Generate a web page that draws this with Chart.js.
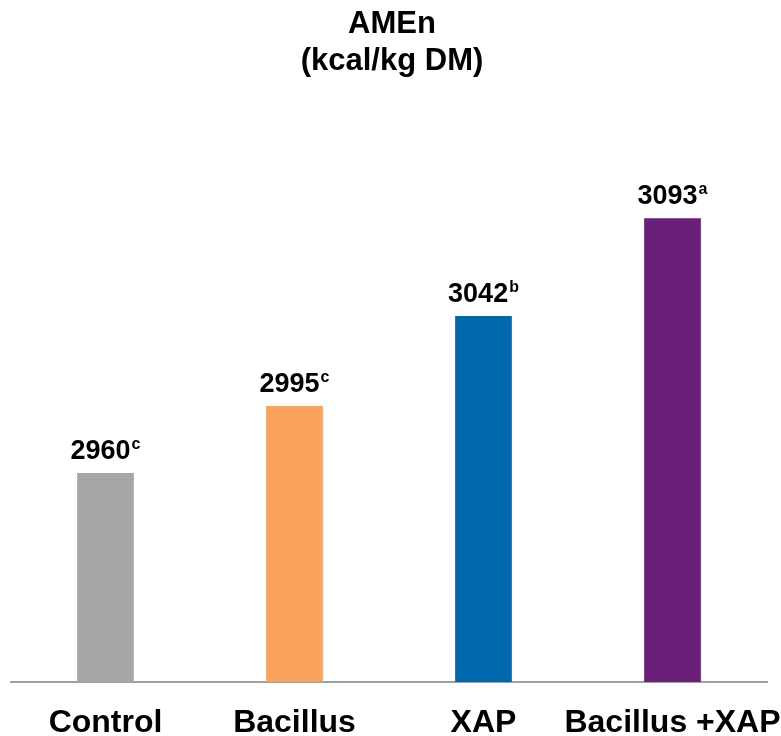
<!DOCTYPE html>
<html>
<head>
<meta charset="utf-8">
<script src="https://cdn.jsdelivr.net/npm/chart.js@4/dist/chart.umd.min.js"></script>
<style>
  html, body { margin: 0; padding: 0; background: #ffffff; }
  #wrap { width: 781px; height: 736px; }
</style>
</head>
<body>
<div id="wrap"><canvas id="c" width="781" height="736"></canvas></div>
<script>
const categories = ['Control', 'Bacillus', 'XAP', 'Bacillus +XAP'];
const amenValues = [2960, 2995, 3042, 3093];
const significance = ['c', 'c', 'b', 'a'];
const barColors = ['#a6a6a6', '#f8a25e', '#0068ac', '#6a1f7a'];
const titleLines = ['AMEn', '(kcal/kg DM)'];

const FONT = '"Liberation Sans", Arial, sans-serif';

// Two-line bold heading centred over the plot
const heading = {
  id: 'heading',
  afterDraw(chart) {
    const ctx = chart.ctx;
    ctx.save();
    ctx.fillStyle = '#000';
    ctx.font = 'bold 31px ' + FONT;
    ctx.textAlign = 'center';
    ctx.textBaseline = 'alphabetic';
    ctx.fillText(titleLines[0], 392, 33);
    ctx.fillText(titleLines[1], 392, 70);
    ctx.restore();
  }
};

// Category names under the axis line
const categoryLabels = {
  id: 'categoryLabels',
  afterDraw(chart) {
    const ctx = chart.ctx;
    const xs = chart.scales.x;
    ctx.save();
    ctx.fillStyle = '#000';
    ctx.font = 'bold 32px ' + FONT;
    ctx.textAlign = 'center';
    ctx.textBaseline = 'alphabetic';
    categories.forEach((c, i) => {
      ctx.fillText(c, xs.getPixelForValue(i), 732);
    });
    ctx.restore();
  }
};

// Value label with a superscript significance letter above each bar
const valueLabels = {
  id: 'valueLabels',
  afterDatasetsDraw(chart) {
    const ctx = chart.ctx;
    const meta = chart.getDatasetMeta(0);
    ctx.save();
    ctx.fillStyle = '#000';
    ctx.textBaseline = 'alphabetic';
    ctx.textAlign = 'left';
    meta.data.forEach((bar, i) => {
      const num = String(amenValues[i]);
      const sup = significance[i];
      ctx.font = 'bold 27px ' + FONT;
      const wNum = ctx.measureText(num).width;
      ctx.font = 'bold 16px ' + FONT;
      const wSup = ctx.measureText(sup).width;
      const total = wNum + 1 + wSup;
      const x0 = bar.x - total / 2;
      const base = bar.y - 14;
      ctx.font = 'bold 27px ' + FONT;
      ctx.fillText(num, x0, base);
      ctx.font = 'bold 16px ' + FONT;
      ctx.fillText(sup, x0 + wNum + 1, base - 10);
    });
    ctx.restore();
  }
};

new Chart(document.getElementById('c'), {
  type: 'bar',
  data: {
    labels: categories,
    datasets: [{
      data: amenValues,
      backgroundColor: barColors,
      borderWidth: 0,
      barPercentage: 0.3,
      categoryPercentage: 1.0
    }]
  },
  options: {
    responsive: false,
    animation: false,
    devicePixelRatio: 1,
    layout: { padding: { left: 11, right: 14, top: 107, bottom: 54 } },
    plugins: {
      legend: { display: false },
      tooltip: { enabled: false },
      title: { display: false }
    },
    scales: {
      x: {
        grid: { display: false, drawTicks: false },
        border: { display: true, color: '#a0a0a0', width: 2 },
        ticks: { display: false }
      },
      y: {
        display: false,
        min: 2851,
        max: 3151
      }
    }
  },
  plugins: [valueLabels, categoryLabels, heading]
});
</script>
</body>
</html>
